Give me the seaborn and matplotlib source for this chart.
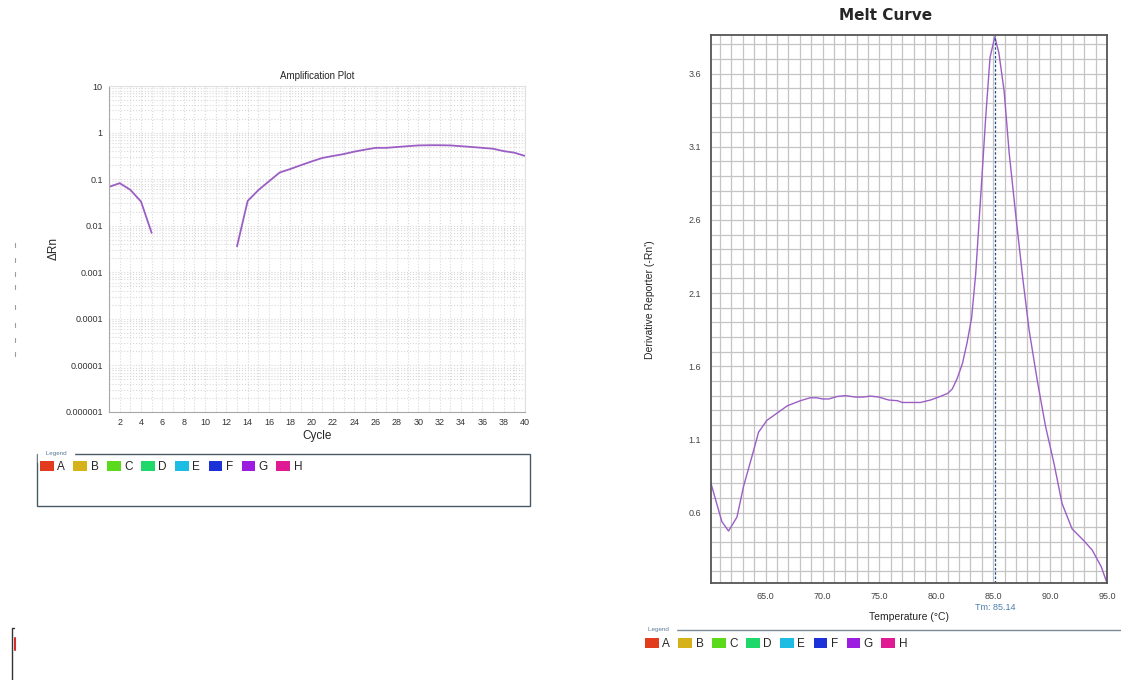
import numpy as np
import pandas as pd
import matplotlib
matplotlib.use("Agg")
import matplotlib.pyplot as plt
import seaborn as sns
from matplotlib.patches import Patch, Rectangle
from matplotlib.lines import Line2D
from matplotlib.ticker import MultipleLocator, LogLocator, NullFormatter

# -------------- Data

# amplification plot (two pieces, cycles 6-12 not plotted)
cycles_a = [1, 2, 3, 4, 5]
drn_a = [0.068, 0.082, 0.059, 0.033, 0.007]
cycles_b = list(range(13, 41))
drn_b = [0.0036, 0.034, 0.058, 0.09, 0.139, 0.165, 0.20, 0.24, 0.285, 0.315,
         0.345, 0.39, 0.43, 0.47, 0.47, 0.49, 0.51, 0.53, 0.535, 0.535,
         0.53, 0.51, 0.49, 0.47, 0.45, 0.40, 0.37, 0.315]
amp_yticks = [1e-6, 1e-5, 1e-4, 1e-3, 1e-2, 1e-1, 1, 10]
amp_ylabels = ["0.000001", "0.00001", "0.0001", "0.001", "0.01", "0.1", "1", "10"]

# melt curve
temps = [60.2, 61.15, 61.74, 62.48, 63.06, 63.8, 64.38, 65.1, 66.0, 66.9,
         68.05, 68.9, 69.5, 70.0, 70.55, 71.3, 72.0, 72.9, 73.6, 74.2,
         74.95, 75.8, 76.6, 77.0, 78.6, 79.5, 80.2, 81.0, 81.4, 81.85,
         82.3, 82.7, 83.1, 83.46, 83.9, 84.34, 84.72, 85.14, 85.5, 85.96,
         86.4, 87.0, 87.6, 88.16, 88.9, 89.6, 90.36, 91.05, 91.93, 92.95,
         93.7, 94.5, 95.0]
deriv = [0.80, 0.54, 0.475, 0.57, 0.78, 0.985, 1.15, 1.23, 1.28, 1.33,
         1.365, 1.385, 1.385, 1.377, 1.377, 1.394, 1.40, 1.39, 1.39, 1.397,
         1.39, 1.37, 1.365, 1.353, 1.353, 1.37, 1.39, 1.415, 1.445, 1.52,
         1.62, 1.76, 1.93, 2.23, 2.76, 3.30, 3.71, 3.85, 3.74, 3.48,
         3.06, 2.62, 2.20, 1.845, 1.49, 1.19, 0.93, 0.663, 0.49, 0.41,
         0.345, 0.23, 0.12]
tm_value = 85.14

# wells
well_names = ["A", "B", "C", "D", "E", "F", "G", "H"]
well_colors = ["#e23b1e", "#d6b21a", "#5bd91c", "#1fd86a", "#1dbde3",
               "#1c32d8", "#9a1de0", "#e01a93"]

line_color = "#9b5ec4"

# -------------- Plot

sns.set_style("white")
plt.rcParams["font.family"] = ["Liberation Sans", "DejaVu Sans"]

W, H = 1121, 680
fig = plt.figure(figsize=(W / 100, H / 100), dpi=100)


def fig_box(x0, y0, x1, y1):
    # pixel box -> figure fraction [left, bottom, width, height]
    return [x0 / W, 1 - y1 / H, (x1 - x0) / W, (y1 - y0) / H]


# ---- Amplification plot
ax1 = fig.add_axes(fig_box(109, 86, 525, 412))
df_amp = pd.DataFrame({
    "Cycle": cycles_a + cycles_b,
    "dRn": drn_a + drn_b,
    "part": [0] * len(cycles_a) + [1] * len(cycles_b),
})
sns.lineplot(data=df_amp, x="Cycle", y="dRn", units="part", estimator=None,
             color=line_color, lw=1.3, ax=ax1)
ax1.set_yscale("log")
ax1.set_ylim(1e-6, 10)
ax1.set_xlim(1, 40)
ax1.set_yticks(amp_yticks)
ax1.set_yticklabels(amp_ylabels)
ax1.yaxis.set_minor_locator(LogLocator(base=10, subs=np.arange(2, 10), numticks=20))
ax1.yaxis.set_minor_formatter(NullFormatter())
ax1.set_xticks(range(2, 41, 2))
ax1.xaxis.set_minor_locator(MultipleLocator(1))
ax1.grid(True, which="both", color="#d9d9d9", ls=":", lw=0.8)
ax1.tick_params(axis="both", which="major", labelsize=6.5, length=2.5,
                color="#888888", labelcolor="#333333", pad=2)
ax1.tick_params(axis="both", which="minor", length=0)
for side in ["left", "bottom"]:
    ax1.spines[side].set_color("#a8a8a8")
for side in ["top", "right"]:
    ax1.spines[side].set_color("#e0e0e0")
ax1.set_xlabel("Cycle", fontsize=8.5, labelpad=2)
ax1.set_ylabel("ΔRn", fontsize=8.5, labelpad=4)
ax1.set_title("Amplification Plot", fontsize=7, pad=5)

# legend box for left plot
fig.add_artist(Rectangle((37 / W, 1 - 506 / H), (530 - 37) / W, (506 - 454) / H,
                         transform=fig.transFigure, fill=False,
                         ec="#4a5a66", lw=1.0))
fig.text(44 / W, 1 - 454 / H, " Legend ", fontsize=4.5, color="#5a7a9a",
         va="center", ha="left", backgroundcolor="white")

handles = [Patch(fc=c, ec="none") for c in well_colors]
leg_kw = dict(ncol=8, frameon=False, fontsize=8.5, handlelength=1.15,
              handleheight=0.95, handletextpad=0.3, columnspacing=0.72,
              borderaxespad=0, borderpad=0)
fig.legend(handles, well_names, loc="upper left",
           bbox_to_anchor=(40 / W, 1 - 461 / H), **leg_kw)

# ---- Melt curve
ax2 = fig.add_axes(fig_box(711, 35, 1107, 583))
df_melt = pd.DataFrame({"Temperature": temps, "Derivative": deriv})
sns.lineplot(data=df_melt, x="Temperature", y="Derivative", sort=False,
             color=line_color, lw=1.0, ax=ax2)
ax2.set_xlim(60.2, 95.0)
ax2.set_ylim(0.12, 3.863)
ax2.set_xticks(np.arange(65, 96, 5))
ax2.set_xticklabels([f"{v:.1f}" for v in np.arange(65, 96, 5)])
ax2.set_yticks(np.arange(0.6, 3.7, 0.5))
ax2.set_yticklabels([f"{v:.1f}" for v in np.arange(0.6, 3.7, 0.5)])
ax2.xaxis.set_minor_locator(MultipleLocator(1))
ax2.yaxis.set_minor_locator(MultipleLocator(0.1))
ax2.grid(True, which="both", color="#c4c4c4", lw=0.9)
ax2.tick_params(axis="both", which="both", direction="out", length=3,
                color="#888888", labelsize=6.5, labelcolor="#444444")
ax2.tick_params(axis="x", which="major", pad=3.5)
ax2.tick_params(axis="y", which="major", pad=4)
for side in ax2.spines:
    ax2.spines[side].set_color("#555555")
    ax2.spines[side].set_linewidth(1.3)
ax2.axvline(tm_value, color="#1d4f8a", ls=(0, (2, 1.5)), lw=0.9)
ax2.text(tm_value, -0.045, f"Tm: {tm_value}", transform=ax2.get_xaxis_transform(),
         ha="center", va="center", fontsize=6.5, color="#4a7fae")
ax2.set_xlabel("Temperature (°C)", fontsize=7.5, labelpad=8)
ax2.set_ylabel("")
fig.text(650 / W, 1 - 300 / H, "Derivative Reporter (-Rn')", rotation=90,
         fontsize=7.5, ha="center", va="center")
fig.text(886 / W, 1 - 15 / H, "Melt Curve", fontsize=11, fontweight="heavy",
         ha="center", va="center", family=["DejaVu Sans"])

# legend line for right plot
fig.add_artist(Line2D([645 / W, 1121 / W], [1 - 630 / H, 1 - 630 / H],
                      transform=fig.transFigure, color="#7a8a96", lw=1.0))
fig.text(648 / W, 1 - 630 / H, "Legend ", fontsize=4.5, color="#5a7a9a",
         va="center", ha="left", backgroundcolor="white")
fig.legend(handles, well_names, loc="upper left",
           bbox_to_anchor=(645 / W, 1 - 638 / H), **leg_kw)

# leftover screen fragments
for yy in [243, 258, 272, 285, 305, 323, 338, 352]:
    fig.add_artist(Line2D([15 / W, 15 / W], [1 - yy / H, 1 - (yy + 4) / H],
                          transform=fig.transFigure, color="#9a9a9a", lw=0.8))
fig.add_artist(Line2D([14 / W, 12 / W, 12 / W], [1 - 628 / H, 1 - 628 / H, 0],
                      transform=fig.transFigure, color="#333333", lw=1.0))
fig.add_artist(Line2D([14.5 / W, 14.5 / W], [1 - 638 / H, 1 - 650 / H],
                      transform=fig.transFigure, color="#d03030", lw=1.5))

fig.savefig("out.png", dpi=100)
